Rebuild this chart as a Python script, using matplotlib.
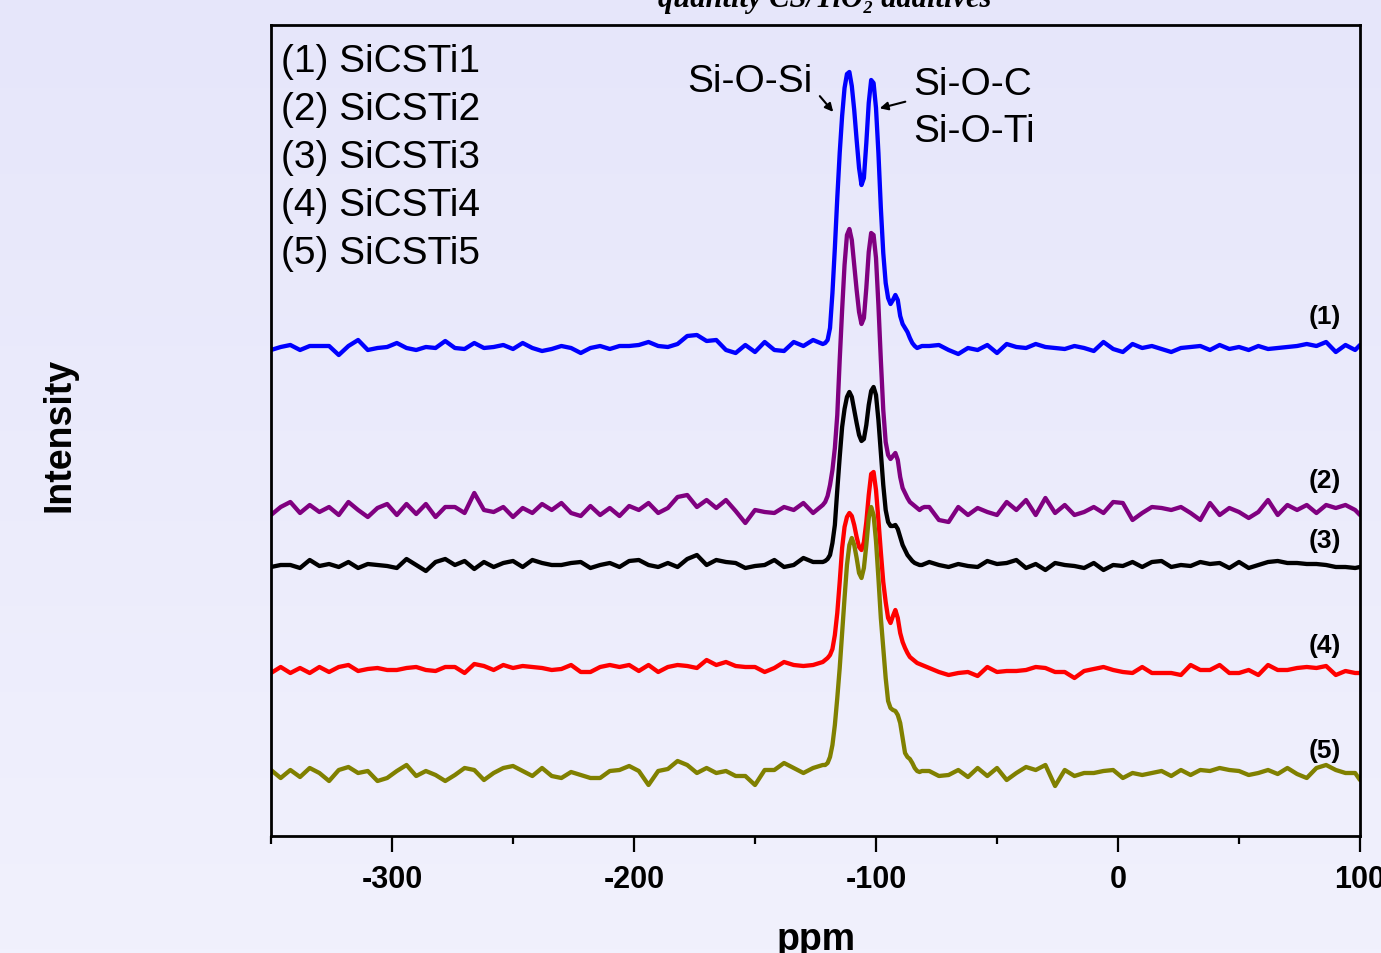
import matplotlib
matplotlib.use("Agg")
import matplotlib.pyplot as plt
from matplotlib.patches import FancyArrowPatch
from matplotlib.colors import LinearSegmentedColormap
import numpy as np

plt.rcParams["axes.unicode_minus"] = False

# ppm grid: coarse in the baseline, 1 ppm across the Q peak region
ppm_left = np.arange(-350, -123, 4)
ppm_peak = np.arange(-122, -79, 1)
ppm_right = np.append(np.arange(-78, 99, 4), 100)
ppm = np.concatenate([ppm_left, ppm_peak, ppm_right])

# intensities relative to each curve's baseline (arbitrary units)
s1_left = [-2, 1, 3, -2, 2, 2, 2, -7, 2, 8, -2, 0, 1, 5, 0, -2, 1, 0, 7, 0, -1, 5, 0, 1, 3, -1, 5, 0, -3,
           -1, 2, 0, -5, 0, 2, -1, 2, 2, 3, 6, 2, 1, 4, 12, 13, 7, 8, -2, -5, 3, -4, 6, -2, -3, 6, 2, 8]
s1_peak = [4, 5, 8, 20, 55, 100, 150, 195, 232, 260, 274, 276, 262, 238, 208, 180, 163, 170, 205, 245, 268,
           265, 240, 195, 140, 95, 65, 50, 44, 48, 53, 48, 32, 24, 20, 16, 10, 5, 2, 0, 1, 2, 2]
s1_right = [2, 3, -2, -6, 0, -2, 3, -5, 4, 1, 0, 4, 1, 0, -1, 2, 0, -3, 6, -1, -4, 4, 0, 2, -1, -4, 0, 1, 2,
            -2, 3, -1, 1, -2, 2, -1, 0, 1, 2, 4, 2, 6, -4, 3, -2, 3]

s2_left = [-5, 3, 8, -3, 5, -2, 3, -5, 8, 0, -7, 2, 6, -5, 6, -4, 6, -7, 3, 3, -3, 17, 0, -2, 3, -7, 2, -3, 6,
           0, 7, -3, -6, 4, -5, 2, -6, 4, 0, 7, -3, 2, 13, 15, 3, 10, 2, 10, -1, -13, 0, -2, -3, 3, 0, 7, -3]
s2_peak = [5, 8, 14, 25, 40, 62, 95, 150, 200, 245, 275, 281, 270, 245, 220, 198, 186, 192, 222, 258, 277,
           275, 252, 205, 150, 100, 68, 55, 51, 54, 57, 50, 33, 22, 17, 12, 8, 6, 4, 2, 0, 2, 3]
s2_right = [3, -10, -12, 3, -5, 2, -2, -5, 8, 0, 10, -5, 12, -3, 5, -5, -2, 3, -3, 8, 7, -10, -3, 3, 2, 0, 3,
            -3, -10, 7, -5, 2, -2, -8, -2, 10, -5, 5, 0, 5, -3, 5, 2, 5, 0, -5]

s3_left = [-2, 0, 0, -3, 5, -1, 1, -2, 3, -3, 1, 0, -1, -3, 6, 0, -6, 3, 6, 0, 4, -4, 3, -2, 2, 4, -2, 5, 2,
           0, 0, 2, 3, -3, 0, 2, -2, 4, 5, 0, -2, 2, -2, 6, 10, 0, 5, 3, 2, -3, -1, 0, 5, -2, 0, 7, 3]
s3_peak = [3, 4, 6, 10, 22, 40, 75, 108, 138, 156, 168, 173, 168, 155, 142, 130, 124, 126, 140, 160, 174,
           178, 170, 145, 112, 80, 55, 43, 39, 39, 40, 36, 28, 20, 15, 10, 7, 4, 2, 1, 0, 0, 1]
s3_right = [3, 0, -2, 1, -1, -2, 4, 1, 2, 5, -3, 1, -5, 2, 0, -1, -3, 2, -5, 0, -1, 3, -2, 3, 4, -2, 0, -1, 3,
            1, 2, -3, 3, -3, 0, 3, 4, 2, 2, 1, 1, 0, -2, -2, -3, -2]

s4_left = [-3, 3, -3, 2, -3, 3, -2, 3, 5, -1, 1, 2, 0, 0, 2, 3, 0, -1, 3, 3, -3, 6, 4, 0, 5, 2, 4, 3, 2,
           0, 1, 5, -2, -2, 3, 5, 3, 5, -1, 5, -2, 3, 5, 4, 2, 10, 5, 8, 4, 3, 3, -2, 2, 8, 5, 4, 5]
s4_peak = [8, 10, 12, 15, 21, 35, 57, 88, 122, 143, 153, 157, 154, 145, 133, 123, 120, 128, 148, 175, 196,
           198, 180, 150, 118, 88, 68, 52, 47, 54, 60, 52, 37, 28, 22, 17, 13, 11, 9, 7, 6, 5, 4]
s4_right = [2, -2, -5, -3, -2, -6, 3, -2, -1, -1, 0, 3, 2, -2, -2, -8, -1, 1, 3, 0, -2, -3, 3, -3, -3, -3, -5,
            5, 0, 0, 5, -3, -3, 0, -5, 5, 0, 0, 2, 3, 2, 4, -5, -1, -3, -3]

s5_left = [3, -5, 3, -4, 5, 0, -8, 3, 6, 0, 2, -8, -5, 2, 8, -3, 2, -2, -8, -2, 5, 3, -7, 0, 5, 7, 2, -3, 5,
           -3, -5, 1, -2, -5, -5, 2, 3, 7, 2, -12, 2, 4, 12, 8, 0, 5, 0, 2, -3, -3, -12, 3, 3, 10, 5, 0, 5]
s5_peak = [8, 8, 10, 16, 28, 48, 75, 105, 140, 175, 208, 228, 235, 228, 215, 200, 195, 205, 228, 255, 266,
           258, 232, 195, 155, 125, 95, 72, 65, 63, 62, 58, 50, 35, 20, 16, 14, 10, 5, 2, 1, 2, 2]
s5_right = [2, -3, -2, 3, -4, 5, -3, 5, -7, 0, 6, 3, 8, -13, 3, -3, 0, 0, 2, 3, -5, 0, -2, 0, 2, -3, 3, -2,
            3, 2, 5, 3, 2, -2, 0, 3, -1, 5, -1, -5, 5, 8, 3, 0, 0, -7]

spectra = [s1_left + s1_peak + s1_right,
           s2_left + s2_peak + s2_right,
           s3_left + s3_peak + s3_right,
           s4_left + s4_peak + s4_right,
           s5_left + s5_peak + s5_right]
baselines = [488, 326, 271, 166, 63]
names = ["SiCSTi1", "SiCSTi2", "SiCSTi3", "SiCSTi4", "SiCSTi5"]
colors = ["#0000FF", "#800080", "#000000", "#FF0000", "#808000"]

W, H = 1381, 954
fig = plt.figure(figsize=(W / 100, H / 100), dpi=100)

# soft lavender gradient behind everything
bg = fig.add_axes([0, 0, 1, 1], zorder=-10)
grad = np.linspace(0, 1, 256).reshape(-1, 1)
cmap = LinearSegmentedColormap.from_list("bg", ["#E6E6FA", "#F1F1FD"])
bg.imshow(grad, aspect="auto", cmap=cmap, extent=[0, 1, 0, 1])
bg.axis("off")

ax = fig.add_axes([271 / W, (H - 837) / H, (1360 - 271) / W, (837 - 26) / H])
ax.set_facecolor("none")

for vals, base, c in zip(spectra, baselines, colors):
    ax.plot(ppm, np.array(vals) + base, color=c, lw=3.1,
            solid_joinstyle="round", solid_capstyle="round")

ax.set_xlim(-350, 100)
ax.set_ylim(0, 811)
ax.set_yticks([])
ax.set_xticks([-300, -200, -100, 0, 100])
ax.set_xticks(np.arange(-350, 101, 50), minor=True)
ax.tick_params(axis="x", which="major", direction="out", length=11.5, width=1.6, pad=9,
               labelsize=22)
ax.tick_params(axis="x", which="minor", direction="out", length=5.5, width=1.6)
for lab in ax.get_xticklabels():
    lab.set_fontweight("bold")
    lab.set_family("Liberation Sans")
for sp in ax.spines.values():
    sp.set_linewidth(2)

# legend-like text block
for i, n in enumerate(names):
    fig.text(281 / W, 1 - (62 + 48 * i) / H, f"({i + 1}) {n}", fontsize=28,
             family="Liberation Sans", va="center", ha="left")

# curve tags at right
tag_y = [317, 481, 541, 646, 751]
for i, y in enumerate(tag_y):
    fig.text(1325 / W, 1 - y / H, f"({i + 1})", fontsize=19, fontweight="bold",
             family="Liberation Sans", ha="center", va="center")

# peak annotations
fig.text(750 / W, 1 - 82 / H, "Si-O-Si", fontsize=28, family="Liberation Sans",
         ha="center", va="center")
fig.text(913 / W, 1 - 85 / H, "Si-O-C", fontsize=28, family="Liberation Sans",
         ha="left", va="center")
fig.text(913 / W, 1 - 132 / H, "Si-O-Ti", fontsize=28, family="Liberation Sans",
         ha="left", va="center")
fig.add_artist(FancyArrowPatch(
    (818 / W, 1 - 95 / H), (835 / W, 1 - 115 / H), transform=fig.transFigure,
    arrowstyle="-|>", mutation_scale=12, lw=1.5, color="black"))
fig.add_artist(FancyArrowPatch(
    (908 / W, 1 - 102 / H), (877 / W, 1 - 110 / H), transform=fig.transFigure,
    arrowstyle="-|>", mutation_scale=12, lw=1.5, color="black"))

# axis titles and clipped figure title
fig.text(816 / W, 1 - 940 / H, "ppm", fontsize=27, fontweight="bold",
         family="Liberation Sans", ha="center", va="center")
fig.text(60 / W, 1 - 435 / H, "Intensity", fontsize=27, fontweight="bold",
         family="Liberation Sans", ha="center", va="center", rotation=90)
fig.text(825 / W, 1 - 7 / H, "quantity CS/TiO\u2082 additives", fontsize=22,
         fontweight="bold", style="italic", family=["Liberation Serif", "DejaVu Serif"],
         ha="center", va="baseline")

fig.savefig("out.png", dpi=100)
